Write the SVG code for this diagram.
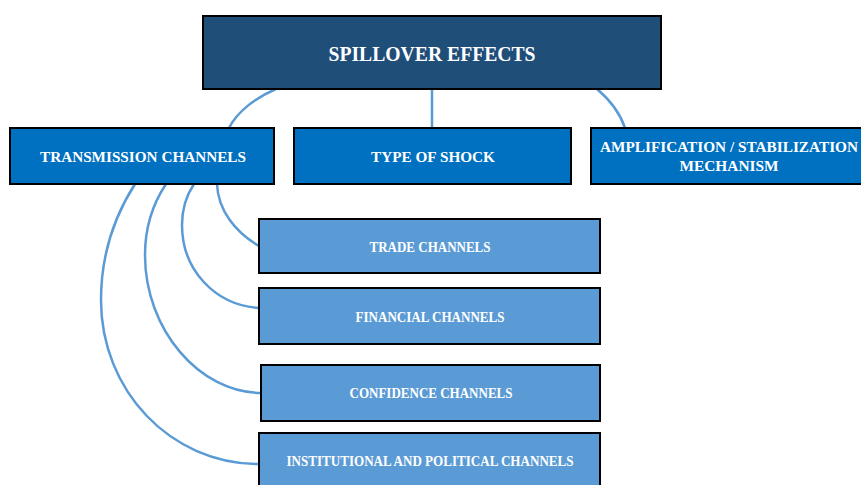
<svg xmlns="http://www.w3.org/2000/svg" width="861" height="485" viewBox="0 0 861 485">
  <style>
    .box { stroke: #000; stroke-width: 2; }
    .root { fill: #1F4E79; }
    .mid { fill: #0070C0; }
    .leaf { fill: #5B9BD5; }
    text { font-family: "Liberation Serif", "Times New Roman", "DejaVu Serif", serif; font-weight: bold; fill: #fff; text-anchor: middle; }
    .t1 { font-size: 20px; }
    .t2 { font-size: 15px; }
    .t3 { font-size: 14px; }
    .conn path { fill: none; stroke: #5B9BD5; stroke-width: 2.5; }
  </style>

  <g class="conn" id="connectors">
    <path d="M276,89 C255,98 237,112 229,128"/>
    <path d="M432,89 L432,128"/>
    <path d="M597,89 C610,100 620,113 625,128"/>
    <path d="M135,184 C112,220 101,260 101,300 C101,390 170,464 259,464"/>
    <path d="M166,184 C152,205 145,230 145,255 C145,330 200,393 261,393"/>
    <path d="M194,184 C186,196 182,210 182,225 C182,270 215,305 259,308"/>
    <path d="M217,184 C218,210 235,232 259,246"/>
  </g>

  <g id="spillover-effects">
    <rect class="box root" x="203" y="16" width="458" height="73"/>
    <text class="t1" x="432" y="61" textLength="207" lengthAdjust="spacingAndGlyphs">SPILLOVER EFFECTS</text>
  </g>

  <g id="transmission-channels">
    <rect class="box mid" x="10" y="128" width="264" height="56"/>
    <text class="t2" x="143" y="162" textLength="206" lengthAdjust="spacingAndGlyphs">TRANSMISSION CHANNELS</text>
  </g>

  <g id="type-of-shock">
    <rect class="box mid" x="294" y="128" width="277" height="56"/>
    <text class="t2" x="433" y="162" textLength="124" lengthAdjust="spacingAndGlyphs">TYPE OF SHOCK</text>
  </g>

  <g id="amplification-mechanism">
    <rect class="box mid" x="591" y="128" width="280" height="56"/>
    <text class="t2" x="729" y="152" textLength="258" lengthAdjust="spacingAndGlyphs">AMPLIFICATION / STABILIZATION</text>
    <text class="t2" x="729" y="171" textLength="99" lengthAdjust="spacingAndGlyphs">MECHANISM</text>
  </g>

  <g id="trade-channels">
    <rect class="box leaf" x="259" y="219" width="341" height="54"/>
    <text class="t3" x="430" y="252" textLength="121" lengthAdjust="spacingAndGlyphs">TRADE CHANNELS</text>
  </g>

  <g id="financial-channels">
    <rect class="box leaf" x="259" y="288" width="341" height="56"/>
    <text class="t3" x="430" y="322" textLength="149" lengthAdjust="spacingAndGlyphs">FINANCIAL CHANNELS</text>
  </g>

  <g id="confidence-channels">
    <rect class="box leaf" x="261" y="365" width="339" height="56"/>
    <text class="t3" x="431" y="398" textLength="163" lengthAdjust="spacingAndGlyphs">CONFIDENCE CHANNELS</text>
  </g>

  <g id="institutional-political-channels">
    <rect class="box leaf" x="259" y="433" width="341" height="60"/>
    <text class="t3" x="430" y="466" textLength="287" lengthAdjust="spacingAndGlyphs">INSTITUTIONAL AND POLITICAL CHANNELS</text>
  </g>
</svg>
